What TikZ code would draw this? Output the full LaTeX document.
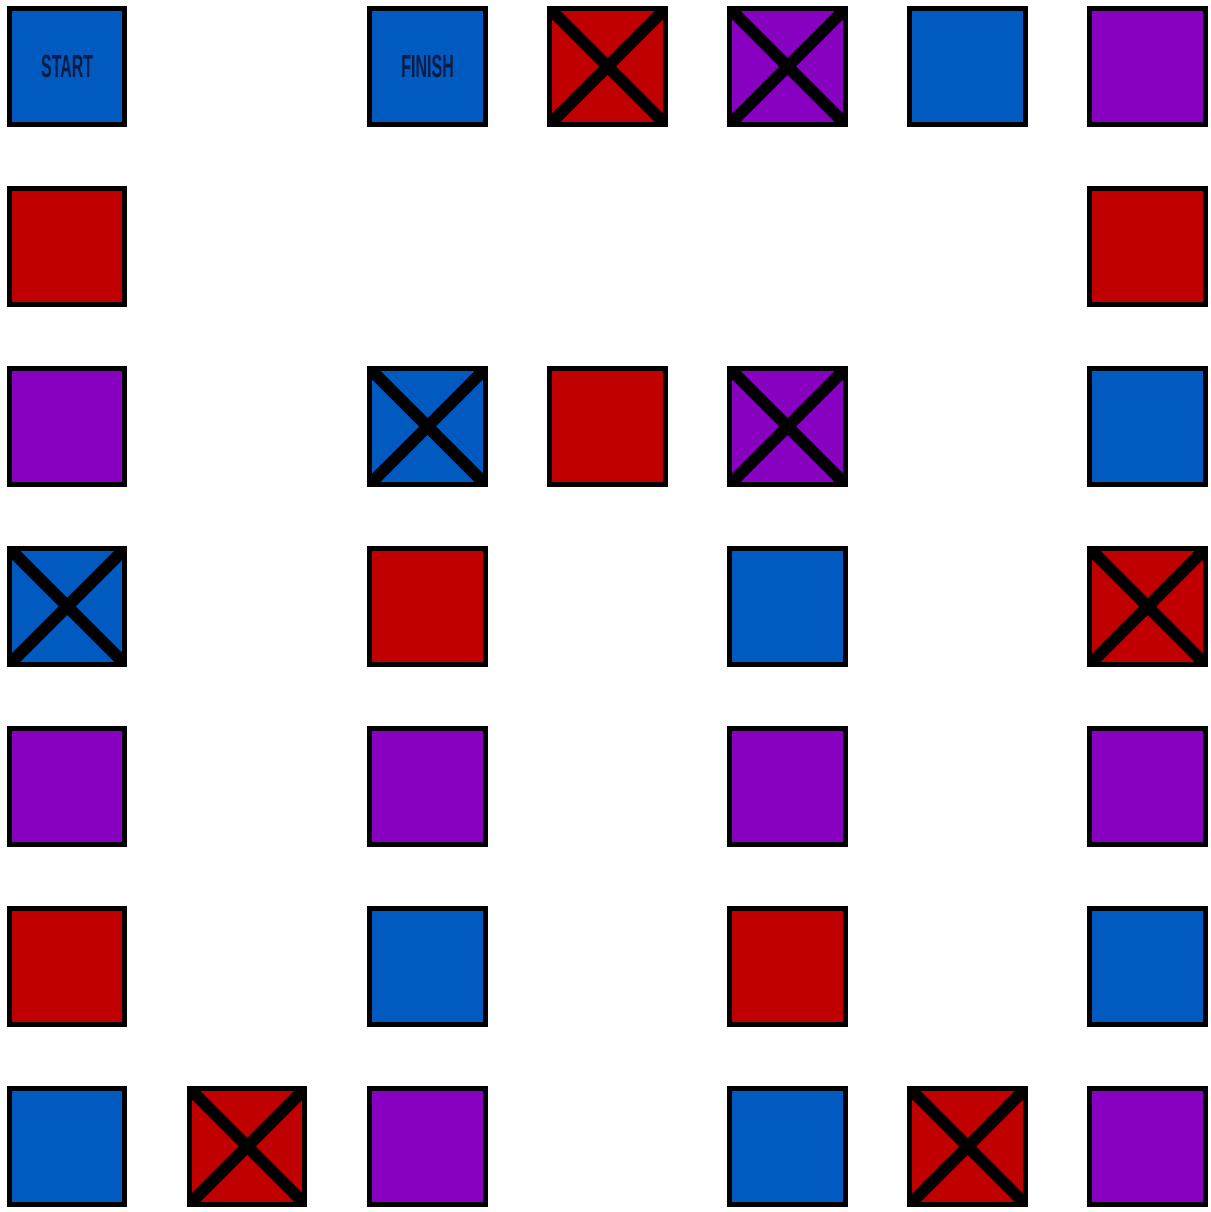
\documentclass[tikz,border=0pt]{standalone}
\usepackage{fontspec}
\setsansfont{Liberation Sans}
\usepackage{graphicx}
\usetikzlibrary{positioning}
\definecolor{tileblue}{RGB}{0,90,192}
\definecolor{tilered}{RGB}{192,0,0}
\definecolor{tilepurple}{RGB}{136,0,192}
\definecolor{textnavy}{RGB}{12,28,72}

\begin{document}
\begin{tikzpicture}[
  node distance=29.8pt,
  tile/.style={draw=black, line width=2.5pt, minimum size=57.7pt,
    inner sep=0pt, rectangle},
  bluebox/.style={tile, fill=tileblue},
  redbox/.style={tile, fill=tilered},
  purplebox/.style={tile, fill=tilepurple},
  crossed/.style={path picture={
    \draw[black, line width=6pt]
      (path picture bounding box.north west) -- (path picture bounding box.south east)
      (path picture bounding box.south west) -- (path picture bounding box.north east);}},
  tag/.style={font=\sffamily\bfseries\fontsize{16}{16}\selectfont, text=textnavy}
]
\useasboundingbox (0,0) rectangle (605.5pt,-606pt);
% top row
\node[bluebox, tag] (start) at (33.6pt,-33.2pt) {\scalebox{.5}[1]{START}};
\node[bluebox, tag, right=120pt of start] (finish) {\scalebox{.5}[1]{FINISH}};
\node[redbox, crossed, right=of finish] (sq03) {};
\node[purplebox, crossed, right=of sq03] (sq04) {};
\node[bluebox, right=of sq04] (sq05) {};
\node[purplebox, right=of sq05] (sq06) {};
% second row
\node[redbox, below=of start] (sq10) {};
\node[redbox, below=of sq06] (sq16) {};
% third row
\node[purplebox, below=of sq10] (sq20) {};
\node[bluebox, crossed, right=120pt of sq20] (sq22) {};
\node[redbox, right=of sq22] (sq23) {};
\node[purplebox, crossed, right=of sq23] (sq24) {};
\node[bluebox, below=of sq16] (sq26) {};
% fourth row
\node[bluebox, crossed, below=of sq20] (sq30) {};
\node[redbox, below=of sq22] (sq32) {};
\node[bluebox, below=of sq24] (sq34) {};
\node[redbox, crossed, below=of sq26] (sq36) {};
% fifth row
\node[purplebox, below=of sq30] (sq40) {};
\node[purplebox, below=of sq32] (sq42) {};
\node[purplebox, below=of sq34] (sq44) {};
\node[purplebox, below=of sq36] (sq46) {};
% sixth row
\node[redbox, below=of sq40] (sq50) {};
\node[bluebox, below=of sq42] (sq52) {};
\node[redbox, below=of sq44] (sq54) {};
\node[bluebox, below=of sq46] (sq56) {};
% bottom row
\node[bluebox, below=of sq50] (sq60) {};
\node[redbox, crossed, right=of sq60] (sq61) {};
\node[purplebox, below=of sq52] (sq62) {};
\node[bluebox, below=of sq54] (sq64) {};
\node[redbox, crossed, right=of sq64] (sq65) {};
\node[purplebox, below=of sq56] (sq66) {};
\end{tikzpicture}
\end{document}
